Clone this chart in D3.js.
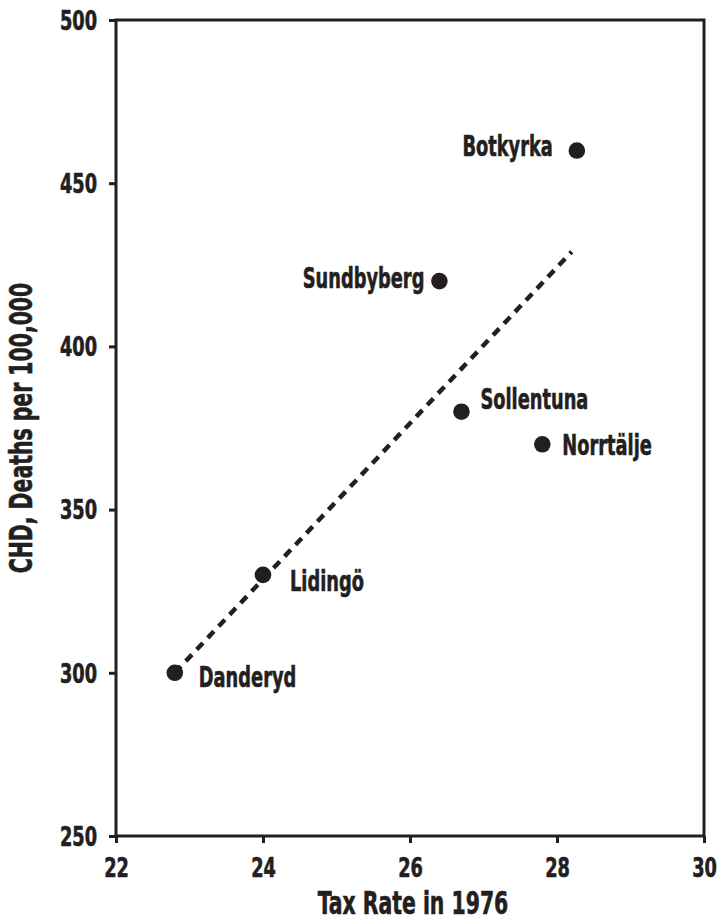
<!DOCTYPE html>
<html>
<head>
<meta charset="utf-8">
<script src="https://cdn.jsdelivr.net/npm/d3@7"></script>
<style>
  body { margin: 0; background: #fff; }
  svg text { font-family: "DejaVu Sans Condensed", "DejaVu Sans", sans-serif; font-stretch: condensed; font-weight: bold; fill: #231f20; stroke: #231f20; stroke-width: 0.6px; }
</style>
</head>
<body>
<script>
    // municipalities, tax rate 1976 vs CHD deaths
    const towns = ["Botkyrka", "Sundbyberg", "Sollentuna", "Norrtälje", "Lidingö", "Danderyd"];
    const taxRate = [28.27, 26.4, 26.7, 27.8, 24.0, 22.8];
    const deaths = [460, 420, 380, 370, 330, 300];

    // trend line end points
    const trendX = [22.8, 28.2];
    const trendY = [300, 429];

    const xTicks = [22, 24, 26, 28, 30];
    const yTicks = [250, 300, 350, 400, 450, 500];

    // label placement next to each dot (px): dx, dy, anchor
    const labelPos = [
        [-24, 5, 'end'],
        [-15, 7, 'end'],
        [19, -3, 'start'],
        [20, 11, 'start'],
        [27, 16, 'start'],
        [24, 14, 'start']
    ];

    const data = towns.map((t, i) => ({town: t, x: taxRate[i], y: deaths[i], pos: labelPos[i]}));
    const trend = trendX.map((x, i) => ({x: x, y: trendY[i]}));

    const margin = {left: 116, top: 20, right: 14, bottom: 84},
        width = 718 - margin.left - margin.right,
        height = 920 - margin.top - margin.bottom;

    const ink = '#231f20';

    // squeeze DejaVu Condensed towards the narrow face of the original
    function squeeze(sel, k) {
        sel.each(function() {
            const w = this.getComputedTextLength();
            d3.select(this).attr('textLength', w * k).attr('lengthAdjust', 'spacingAndGlyphs');
        });
    }

    const svg = d3.select('body').append('svg')
        .attr('width', 718)
        .attr('height', 920)
        .append('g')
            .attr('transform', `translate(${margin.left}, ${margin.top})`);

    const xScale = d3.scaleLinear().domain([22, 30]).range([0, width]);
    const yScale = d3.scaleLinear().domain([250, 500]).range([height, 0]);

    // frame
    svg.append('rect')
        .attr('width', width)
        .attr('height', height)
        .attr('fill', 'none')
        .attr('stroke', ink)
        .attr('stroke-width', 3);

    const xAxis = d3.axisBottom(xScale).tickValues(xTicks).tickSize(7).tickSizeOuter(0);
    const yAxis = d3.axisLeft(yScale).tickValues(yTicks).tickSize(7).tickSizeOuter(0).tickPadding(12);

    const xg = svg.append('g')
        .attr('transform', `translate(0, ${height})`)
        .call(xAxis);
    const yg = svg.append('g').call(yAxis);

    [xg, yg].forEach(g => {
        g.attr('font-family', null).attr('font-size', null);
        g.select('.domain').remove();
        g.selectAll('line').attr('stroke', ink).attr('stroke-width', 3);
        g.selectAll('text').attr('font-size', '26px').attr('fill', ink);
    });
    yg.selectAll('text').attr('dy', '0.36em');
    xg.selectAll('text').attr('y', 41).attr('dy', 0);

    // trend line
    svg.append('path')
        .datum(trend)
        .attr('d', d3.line().x(d => xScale(d.x)).y(d => yScale(d.y)))
        .attr('fill', 'none')
        .attr('stroke', ink)
        .attr('stroke-width', 4.5)
        .attr('stroke-dasharray', '9 7');

    // points
    svg.selectAll('circle')
        .data(data)
        .enter()
        .append('circle')
            .attr('cx', d => xScale(d.x))
            .attr('cy', d => yScale(d.y))
            .attr('r', 8.3)
            .attr('fill', ink);

    // point labels
    const labels = svg.selectAll('.lbl')
        .data(data)
        .enter()
        .append('text')
            .attr('class', 'lbl')
            .attr('x', d => xScale(d.x) + d.pos[0])
            .attr('y', d => yScale(d.y) + d.pos[1])
            .attr('text-anchor', d => d.pos[2])
            .attr('font-size', '27.5px')
            .text(d => d.town);

    // axis titles
    const xTitle = svg.append('text')
        .attr('x', width / 2 + 3)
        .attr('y', height + 78)
        .attr('text-anchor', 'middle')
        .attr('font-size', '31.5px')
        .text('Tax Rate in 1976');

    const yTitle = svg.append('text')
        .attr('transform', `translate(${-margin.left + 32}, ${height / 2}) rotate(-90)`)
        .attr('text-anchor', 'middle')
        .attr('font-size', '31.5px')
        .text('CHD, Deaths per 100,000');

    squeeze(xg.selectAll('text'), 0.76);
    squeeze(yg.selectAll('text'), 0.76);
    squeeze(labels, 0.72);
    squeeze(xTitle, 0.72);
    squeeze(yTitle, 0.72);
</script>
</body>
</html>
